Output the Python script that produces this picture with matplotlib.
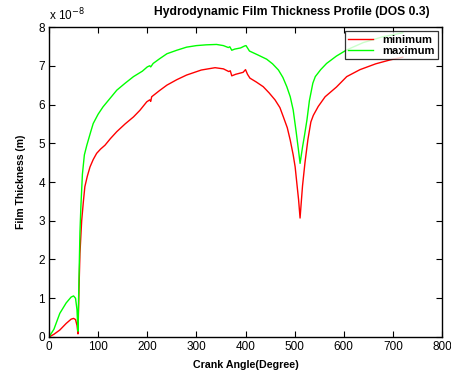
import matplotlib
matplotlib.use("Agg")
import matplotlib.pyplot as plt

plt.rcParams['font.family'] = ['Liberation Sans', 'DejaVu Sans']

# Crank angle (deg) and film thickness (x 1e-8 m)
angle_max = [0, 10, 22, 35, 45, 50, 54, 57, 59, 61, 63, 65, 68, 72, 77, 85, 90, 100, 110,
             125, 138, 155, 172, 190, 200, 205, 207, 212, 225, 240, 260, 280, 300, 320,
             341, 355, 365, 368, 372, 378, 390, 398, 401, 408, 425, 443, 455, 467, 476,
             484, 491, 497, 503, 508, 511, 516, 520, 525, 530, 537, 542, 553, 565, 585,
             606, 640, 680, 720]
h_max = [0, 0.2, 0.61, 0.88, 1.03, 1.06, 1.0, 0.7, 0.15, 1.5, 2.7, 3.4, 4.2, 4.7, 4.95,
         5.3, 5.51, 5.75, 5.94, 6.17, 6.37, 6.55, 6.72, 6.86, 6.97, 7.0, 6.97, 7.06, 7.18,
         7.31, 7.40, 7.48, 7.52, 7.54, 7.55, 7.52, 7.47, 7.49, 7.40, 7.43, 7.46, 7.51,
         7.52, 7.38, 7.28, 7.17, 7.05, 6.89, 6.7, 6.46, 6.2, 5.86, 5.3, 4.8, 4.48, 4.9,
         5.2, 5.6, 6.1, 6.55, 6.72, 6.9, 7.06, 7.25, 7.41, 7.6, 7.75, 7.85]

angle_min = [0, 10, 22, 35, 45, 50, 54, 57, 59, 61, 63, 66.5, 70, 73, 78, 83.5, 90, 97,
             105, 114, 125, 138, 155, 172, 185, 199, 205, 207, 209, 225, 240, 260, 280,
             310, 338, 355, 366, 369, 372, 380, 395, 400, 404, 409, 422, 436, 448, 460,
             470, 477, 485, 491, 497, 501, 505, 508, 511, 516, 521, 527, 533, 538, 548,
             562, 585, 606, 633, 665, 694, 720]
h_min = [0, 0.07, 0.18, 0.35, 0.46, 0.48, 0.45, 0.3, 0.08, 1.2, 2.16, 3.0, 3.5, 3.88,
         4.15, 4.39, 4.58, 4.74, 4.85, 4.95, 5.12, 5.3, 5.5, 5.68, 5.85, 6.07, 6.12, 6.08,
         6.2, 6.36, 6.5, 6.64, 6.76, 6.89, 6.95, 6.92, 6.85, 6.87, 6.74, 6.78, 6.83, 6.9,
         6.78, 6.68, 6.58, 6.46, 6.3, 6.12, 5.92, 5.68, 5.4, 5.08, 4.7, 4.39, 3.9, 3.54,
         3.07, 3.9, 4.5, 5.1, 5.55, 5.72, 5.95, 6.2, 6.45, 6.72, 6.9, 7.05, 7.15, 7.22]

x_ticks = [0, 100, 200, 300, 400, 500, 600, 700, 800]
y_ticks = [0, 1, 2, 3, 4, 5, 6, 7, 8]

fig = plt.figure(figsize=(4.52, 3.70), dpi=100)
ax = fig.add_axes([0.1084, 0.0892, 0.8696, 0.8378])

ax.plot(angle_min, h_min, color='#ff0000', lw=1.0, label='minimum')
ax.plot(angle_max, h_max, color='#00ff00', lw=1.0, label='maximum')

ax.set_xlim(0, 800)
ax.set_ylim(0, 8)
ax.set_xticks(x_ticks)
ax.set_yticks(y_ticks)
ax.tick_params(direction='in', length=4, width=0.8, labelsize=8.5,
               top=True, right=True, pad=3)
for s in ax.spines.values():
    s.set_linewidth(1.0)

ax.set_xlabel('Crank Angle(Degree)', fontsize=7.7, fontweight='bold', labelpad=5)
ax.set_ylabel('Film Thickness (m)', fontsize=7.5, fontweight='bold', labelpad=9)
ax.text(0.969, 1.05, 'Hydrodynamic Film Thickness Profile (DOS 0.3)',
        transform=ax.transAxes, fontsize=8.7, fontweight='bold',
        ha='right', va='center')
ax.text(0.0, 1.012, r'x 10$^{-8}$', transform=ax.transAxes, fontsize=8.5,
        ha='left', va='bottom')

leg = ax.legend(loc='upper right', fontsize=8, frameon=True, fancybox=False,
                borderaxespad=0.4, handlelength=2.2, borderpad=0.3,
                labelspacing=0.1, handletextpad=0.8)
leg.get_frame().set_edgecolor('black')
leg.get_frame().set_linewidth(0.9)
for t in leg.get_texts():
    t.set_fontweight('bold')

fig.savefig('out.png', dpi=100)
